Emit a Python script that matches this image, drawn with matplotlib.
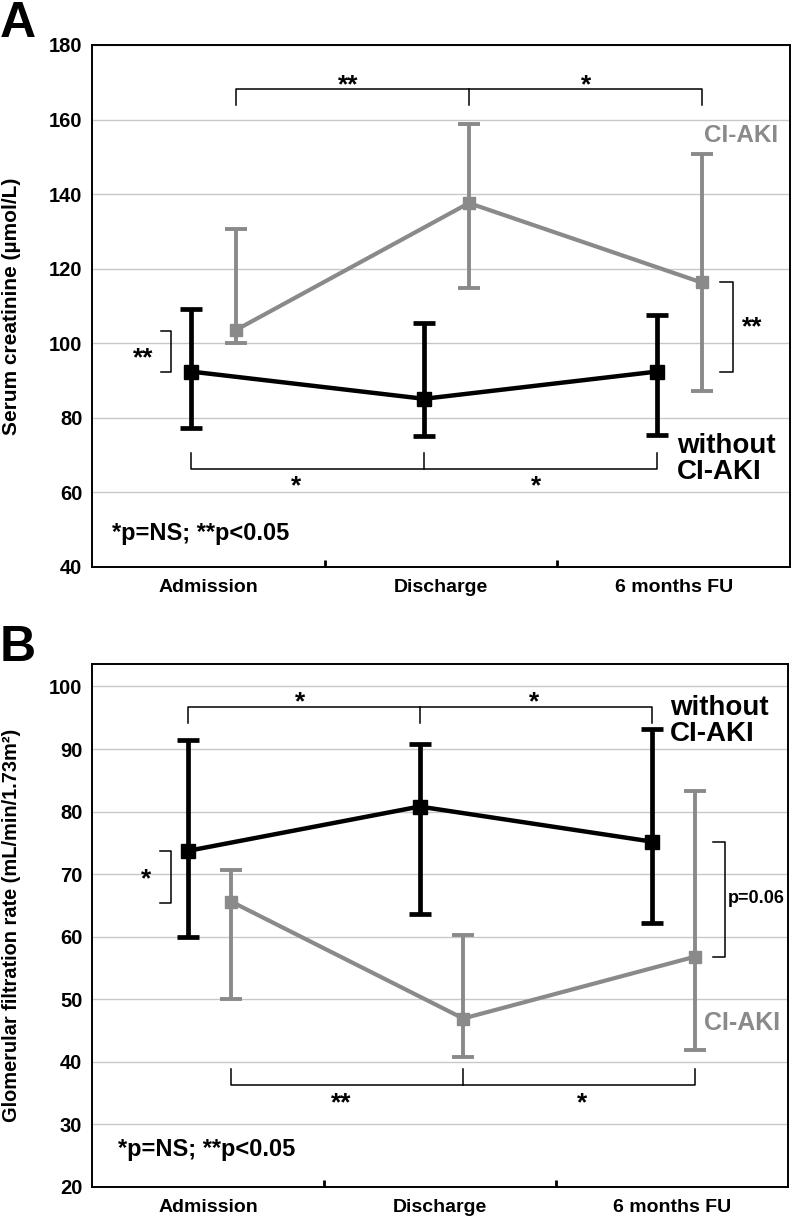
import numpy as np
import matplotlib.pyplot as plt

plt.rcParams['font.family'] = ['Liberation Sans', 'DejaVu Sans']
plt.rcParams['font.weight'] = 'bold'

stages = ['Admission', 'Discharge', '6 months FU']

# A: serum creatinine (umol/L), mean and error bar ends
cr_no_mean = [92.4, 85.1, 92.4]
cr_no_hi = [109.3, 105.4, 107.5]
cr_no_lo = [77.4, 75.0, 75.3]
cr_aki_mean = [103.6, 137.6, 116.3]
cr_aki_hi = [130.7, 158.9, 150.8]
cr_aki_lo = [100.0, 114.8, 87.1]

# B: GFR (mL/min/1.73m2)
gfr_no_mean = [73.7, 80.8, 75.2]
gfr_no_hi = [91.4, 90.8, 93.2]
gfr_no_lo = [60.0, 63.6, 62.2]
gfr_aki_mean = [65.6, 46.9, 56.8]
gfr_aki_hi = [70.6, 60.2, 83.3]
gfr_aki_lo = [50.0, 40.7, 41.8]

GRAY = '#8a8a8a'
STAR = 19


def series(ax, x, mean, lo, hi, color, lw, elw, ms):
    mean = np.array(mean)
    yerr = [mean - np.array(lo), np.array(hi) - mean]
    ax.errorbar(x, mean, yerr=yerr, fmt='-s', color=color, lw=lw,
                elinewidth=elw, capsize=8, capthick=elw, ms=ms, zorder=3)


def hbracket(ax, x0, xm, x1, y, d):
    ax.plot([x0, x0, x1, x1], [y - d, y, y, y - d], color='k', lw=1.1, zorder=2)
    ax.plot([xm, xm], [y, y - d], color='k', lw=1.1, zorder=2)


def vbracket(ax, x0, x1, y0, y1):
    ax.plot([x0, x1, x1, x0], [y0, y0, y1, y1], color='k', lw=1.1, zorder=2)


def setup(ax, ylim, yticks, ylabel, lsize):
    ax.set_xlim(-0.5, 2.5)
    ax.set_ylim(*ylim)
    ax.set_yticks(yticks)
    ax.set_xticks(range(3))
    ax.set_xticklabels(stages, fontsize=14, fontweight='bold')
    ax.set_xticks([0.5, 1.5], minor=True)
    ax.tick_params(axis='x', which='major', length=0, pad=9)
    ax.tick_params(axis='x', which='minor', direction='in', length=5, width=2)
    ax.tick_params(axis='y', length=0, pad=7, labelsize=14.5)
    for t in ax.get_yticklabels():
        t.set_fontweight('bold')
    ax.grid(axis='y', color='#c8c8c8', lw=1)
    ax.set_axisbelow(True)
    for s in ax.spines.values():
        s.set_linewidth(1.4)
    ax.set_ylabel(ylabel, fontsize=lsize, fontweight='bold')
    ax.yaxis.set_label_coords(-0.102, 0.5)


fig = plt.figure(figsize=(7.92, 12.19), dpi=100)
axA = fig.add_axes([0.1162, 0.5349, 0.8813, 0.4282])
axB = fig.add_axes([0.1162, 0.0265, 0.8788, 0.4288])

# ---- panel A
x = np.arange(3)
xb, xg = x - 0.073, x + 0.12
setup(axA, (40, 180), range(40, 181, 20), 'Serum creatinine (µmol/L)', 15)
series(axA, xb, cr_no_mean, cr_no_lo, cr_no_hi, 'k', 3.2, 3.4, 9.5)
series(axA, xg, cr_aki_mean, cr_aki_lo, cr_aki_hi, GRAY, 3.0, 2.8, 8.5)

hbracket(axA, xg[0], xg[1], xg[2], 168.2, 4.4)
axA.text(0.6, 169.3, '**', ha='center', va='center', fontsize=STAR)
axA.text(1.622, 169.3, '*', ha='center', va='center', fontsize=STAR)
hbracket(axA, xb[0], xb[1], xb[2], 66.2, -4.3)
axA.text(0.377, 61.6, '*', ha='center', va='center', fontsize=STAR)
axA.text(1.407, 61.6, '*', ha='center', va='center', fontsize=STAR)
vbracket(axA, -0.2035, -0.16, cr_aki_mean[0] - 0.2, cr_no_mean[0])
axA.text(-0.281, 96.0, '**', ha='center', va='center', fontsize=STAR)
vbracket(axA, 2.199, 2.255, cr_aki_mean[2], cr_no_mean[2] - 0.2)
axA.text(2.336, 104.4, '**', ha='center', va='center', fontsize=STAR)

axA.text(2.013, 75.8, 'without\nCI-AKI', ha='left', va='top', fontsize=20,
         fontweight='bold', linespacing=1.0)
axA.text(2.13, 155.8, 'CI-AKI', ha='left', va='center', fontsize=17.5,
         fontweight='bold', color=GRAY)
axA.text(-0.414, 49.1, '*p=NS; **p<0.05', ha='left', va='center', fontsize=17,
         fontweight='bold')

# ---- panel B
xb, xg = x - 0.088, x + 0.10
setup(axB, (20, 103.6), range(20, 101, 10),
      'Glomerular filtration rate (mL/min/1.73m²)', 14.4)
series(axB, xb, gfr_no_mean, gfr_no_lo, gfr_no_hi, 'k', 3.2, 3.4, 9.5)
series(axB, xg, gfr_aki_mean, gfr_aki_lo, gfr_aki_hi, GRAY, 3.0, 2.8, 8.5)

hbracket(axB, xb[0], xb[1], xb[2], 96.8, 2.6)
axB.text(0.397, 97.4, '*', ha='center', va='center', fontsize=STAR)
axB.text(1.406, 97.4, '*', ha='center', va='center', fontsize=STAR)
hbracket(axB, xg[0], xg[1], xg[2], 36.2, -2.6)
axB.text(0.573, 33.4, '**', ha='center', va='center', fontsize=STAR)
axB.text(1.613, 33.4, '*', ha='center', va='center', fontsize=STAR)
vbracket(axB, -0.207, -0.16, gfr_no_mean[0], gfr_aki_mean[0] - 0.2)
axB.text(-0.269, 69.2, '*', ha='center', va='center', fontsize=STAR)
vbracket(axB, 2.177, 2.229, gfr_no_mean[2], gfr_aki_mean[2])
axB.text(2.241, 66.1, 'p=0.06', ha='left', va='center', fontsize=13,
         fontweight='bold')

axB.text(1.991, 98.7, 'without\nCI-AKI', ha='left', va='top', fontsize=20,
         fontweight='bold', linespacing=1.0)
axB.text(2.138, 46.2, 'CI-AKI', ha='left', va='center', fontsize=18,
         fontweight='bold', color=GRAY)
axB.text(-0.388, 25.9, '*p=NS; **p<0.05', ha='left', va='center', fontsize=17,
         fontweight='bold')

fig.text(0.0, 1 - 37 / 1219, 'A', fontsize=36, fontweight='bold', ha='left',
         va='baseline')
fig.text(0.0, 1 - 661 / 1219, 'B', fontsize=36, fontweight='bold', ha='left',
         va='baseline')

fig.savefig('out.png', dpi=100)
